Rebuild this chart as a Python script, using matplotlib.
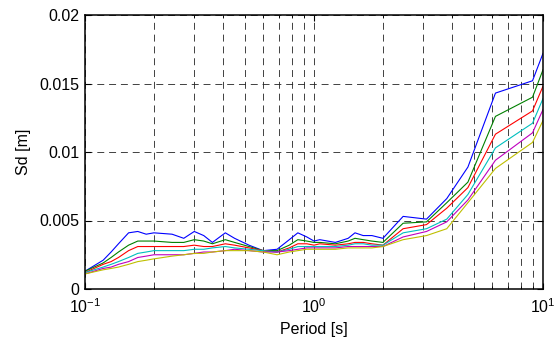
import matplotlib
matplotlib.use("Agg")
import matplotlib.pyplot as plt
from matplotlib.ticker import LogLocator, NullFormatter

plt.rcParams['font.family'] = ['Liberation Sans', 'DejaVu Sans']
plt.rcParams['mathtext.default'] = 'regular'
plt.rcParams['lines.scale_dashes'] = False

periods = [0.10, 0.12, 0.13, 0.14, 0.155, 0.17, 0.185, 0.20, 0.24, 0.27, 0.30, 0.33,
           0.36, 0.41, 0.45, 0.52, 0.60, 0.69, 0.78, 0.85, 0.93, 1.0, 1.06, 1.24,
           1.41, 1.51, 1.64, 1.79, 2.0, 2.45, 3.1, 3.8, 4.7, 6.2, 9.0, 10.0]

sd_blue = [0.0013, 0.0021, 0.0027, 0.0033, 0.0041, 0.0042, 0.0040, 0.0041, 0.0040, 0.0037,
           0.0042, 0.0039, 0.0034, 0.0041, 0.0037, 0.0032, 0.0028, 0.0029, 0.0036, 0.0041,
           0.0038, 0.0035, 0.0036, 0.0034, 0.0037, 0.0041, 0.0039, 0.0039, 0.0037, 0.0053,
           0.0051, 0.0066, 0.0089, 0.0143, 0.0152, 0.0172]
sd_green = [0.0013, 0.0019, 0.0023, 0.0027, 0.0032, 0.0035, 0.0035, 0.0035, 0.0034, 0.0034,
            0.0036, 0.0035, 0.0033, 0.0036, 0.0034, 0.0031, 0.0028, 0.0028, 0.0032, 0.0036,
            0.0035, 0.0034, 0.0034, 0.0033, 0.0035, 0.0037, 0.0036, 0.0035, 0.0034, 0.0048,
            0.0049, 0.0063, 0.0078, 0.0126, 0.0140, 0.0160]
sd_red = [0.0012, 0.0018, 0.0020, 0.0023, 0.0028, 0.0031, 0.0031, 0.0031, 0.0031, 0.0031,
          0.0032, 0.0031, 0.0031, 0.0033, 0.0032, 0.0030, 0.0028, 0.0027, 0.0030, 0.0033,
          0.0033, 0.0032, 0.0033, 0.0032, 0.0033, 0.0034, 0.0034, 0.0033, 0.0032, 0.0044,
          0.0047, 0.0059, 0.0074, 0.0113, 0.0130, 0.0148]
sd_cyan = [0.0012, 0.0016, 0.0018, 0.0020, 0.0023, 0.0026, 0.0027, 0.0028, 0.0028, 0.0028,
           0.0029, 0.0029, 0.0030, 0.0031, 0.0030, 0.0029, 0.0028, 0.0027, 0.0029, 0.0031,
           0.0031, 0.0031, 0.0031, 0.0031, 0.0032, 0.0033, 0.0033, 0.0032, 0.0032, 0.0041,
           0.0044, 0.0051, 0.0069, 0.0103, 0.0121, 0.0139]
sd_magenta = [0.0011, 0.0015, 0.0016, 0.0018, 0.0020, 0.0023, 0.0024, 0.0025, 0.0025, 0.0025,
              0.0026, 0.0027, 0.0027, 0.0028, 0.0029, 0.0028, 0.0027, 0.0027, 0.0028, 0.0029,
              0.0030, 0.0030, 0.0030, 0.0030, 0.0031, 0.0031, 0.0031, 0.0031, 0.0031, 0.0038,
              0.0042, 0.0049, 0.0065, 0.0094, 0.0114, 0.0131]
sd_yellow = [0.0011, 0.0014, 0.0015, 0.0016, 0.0018, 0.0020, 0.0021, 0.0022, 0.0024, 0.0025,
             0.0026, 0.0026, 0.0027, 0.0028, 0.0028, 0.0028, 0.0027, 0.0025, 0.0027, 0.0028,
             0.0029, 0.0029, 0.0029, 0.0029, 0.0030, 0.0030, 0.0030, 0.0030, 0.0031, 0.0036,
             0.0039, 0.0044, 0.0063, 0.0088, 0.0107, 0.0123]

series = [sd_blue, sd_green, sd_red, sd_cyan, sd_magenta, sd_yellow]
colors = [(0, 0, 1), (0, 0.5, 0), (1, 0, 0), (0, 0.75, 0.75), (0.75, 0, 0.75), (0.75, 0.75, 0)]

yticks = [0, 0.005, 0.01, 0.015, 0.02]
ytick_labels = ['0', '0.005', '0.01', '0.015', '0.02']

fig = plt.figure(figsize=(5.58, 3.51), dpi=100)
ax = fig.add_axes([85/558, 62/351, 458/558, 274/351])

for s, c in zip(series, colors):
    ax.plot(periods, s, color=c, linewidth=0.8)

ax.set_xscale('log')
ax.set_xlim(0.1, 10)
ax.set_ylim(0, 0.02)
ax.set_yticks(yticks)
ax.set_yticklabels(ytick_labels)
ax.xaxis.set_major_locator(LogLocator(base=10, numticks=10))
ax.xaxis.set_minor_locator(LogLocator(base=10, subs=range(2, 10), numticks=20))
ax.xaxis.set_minor_formatter(NullFormatter())

dash = (0, (5, 3.5))
ax.grid(True, which='both', axis='x', color='#222222', linestyle=dash, linewidth=0.6)
ax.grid(True, which='major', axis='y', color='#222222', linestyle=dash, linewidth=0.6)

ax.tick_params(which='both', direction='in', top=True, right=True, labelsize=11.5)
ax.tick_params(axis='y', pad=4)
ax.tick_params(axis='x', pad=6)
ax.tick_params(which='major', length=4, width=0.8)
ax.tick_params(which='minor', length=2.5, width=0.6)
for sp in ax.spines.values():
    sp.set_linewidth(1.1)

ax.set_xlabel('Period [s]', fontsize=11.5, labelpad=4)
ax.set_ylabel('Sd [m]', fontsize=11.5, labelpad=6)

fig.savefig('out.png', dpi=100)
